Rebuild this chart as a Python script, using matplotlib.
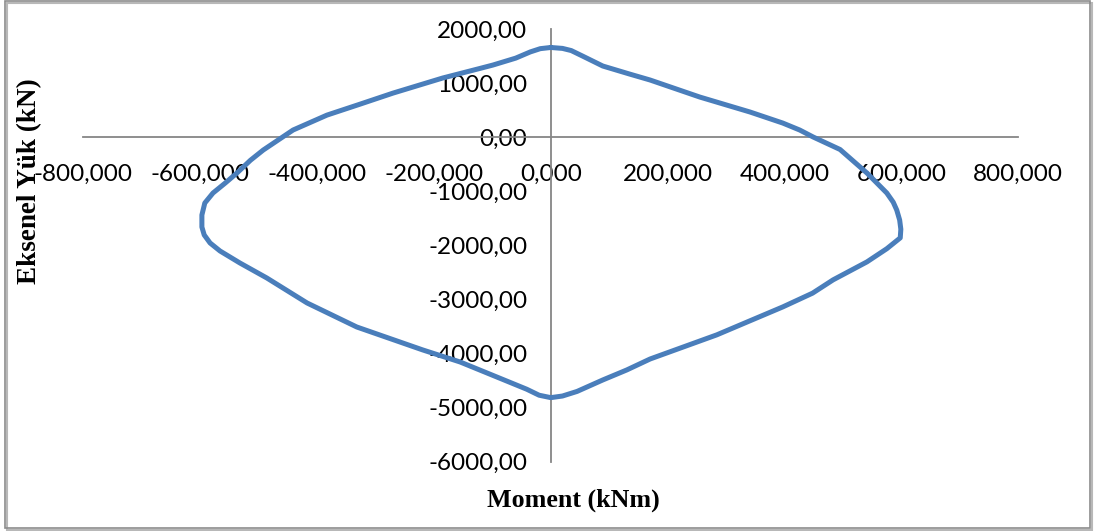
import matplotlib
matplotlib.use("Agg")
import matplotlib.pyplot as plt
from matplotlib.patches import Rectangle
from matplotlib.ticker import FixedLocator, FixedFormatter

# Interaction diagram: moment (kNm) vs axial load (kN), closed loop
moment = [0, 20, 35, 55, 89, 135, 170, 255, 341, 397, 426, 449, 495, 541, 575, 586, 592, 597,
          599, 598, 575, 541, 483, 448, 397, 341, 284, 170, 130, 89, 45, 20, 0,
          -20, -41, -93, -155, -219, -332, -417, -486, -532, -566, -583, -593, -597, -597,
          -592, -578, -557, -537, -514, -492, -441, -383, -326, -270, -185, -121, -99,
          -60, -35, -18, 0]
axial = [1662, 1645, 1605, 1500, 1319, 1170, 1060, 745, 468, 264, 135, 6, -225, -660, -1030, -1200, -1345, -1530,
         -1700, -1860, -2060, -2304, -2637, -2882, -3137, -3393, -3654, -4100, -4303, -4488, -4700, -4785, -4815,
         -4770, -4660, -4430, -4156, -3933, -3508, -3064, -2601, -2324, -2102, -1954, -1806, -1659, -1437,
         -1215, -1030, -845, -660, -425, -235, 135, 411, 615, 818, 1097, 1275, 1337,
         1465, 1580, 1640, 1662]

x_ticks = [-800, -600, -400, -200, 0, 200, 400, 600, 800]
x_ticklabels = ["-800,000", "-600,000", "-400,000", "-200,000", "0,000",
                "200,000", "400,000", "600,000", "800,000"]
y_ticks = [2000, 1000, 0, -1000, -2000, -3000, -4000, -5000, -6000]
y_ticklabels = ["2000,00", "1000,00", "0,00", "-1000,00", "-2000,00",
                "-3000,00", "-4000,00", "-5000,00", "-6000,00"]

fig = plt.figure(figsize=(10.94, 5.31), dpi=100)
ax = fig.add_axes([0.0761, 0.1305, 0.8547, 0.8145])

ax.plot(moment, axial, color="#4A7EBB", lw=3.6, solid_joinstyle="round",
        solid_capstyle="round", clip_on=False, zorder=3)

ax.set_xlim(-800, 800)
ax.set_ylim(-6000, 2000)

for s in ("top", "right"):
    ax.spines[s].set_visible(False)
ax.spines["left"].set_position(("data", 0))
ax.spines["bottom"].set_position(("data", 0))
for s in ("left", "bottom"):
    ax.spines[s].set_color("#868686")
    ax.spines[s].set_linewidth(1.3)

ax.xaxis.set_major_locator(FixedLocator(x_ticks))
ax.xaxis.set_major_formatter(FixedFormatter(x_ticklabels))
ax.yaxis.set_major_locator(FixedLocator(y_ticks))
ax.yaxis.set_major_formatter(FixedFormatter(y_ticklabels))

ax.tick_params(axis="x", length=0, pad=19)
ax.tick_params(axis="y", length=0, pad=17)
for lbl in ax.get_xticklabels() + ax.get_yticklabels():
    lbl.set_fontfamily("Lato")
    lbl.set_fontsize(17.5)
    lbl.set_color("black")

fig.text(573 / 1094, 1 - 500 / 531, "Moment (kNm)", ha="center", va="center",
         family="Liberation Serif", weight="bold", fontsize=18.7)
fig.text(30 / 1094, 1 - 181 / 531, "Eksenel Yük (kN)", ha="center", va="center",
         rotation=90, family="Liberation Serif", weight="bold", fontsize=19.5)

# chart frame with a light drop shadow
fig.patches.append(Rectangle((7 / 1094, 1 - 530 / 531), 1085 / 1094, 527 / 531,
                             transform=fig.transFigure, fill=False,
                             edgecolor="#b8b8b8", lw=1.5))
fig.patches.append(Rectangle((5 / 1094, 1 - 528 / 531), 1085 / 1094, 527 / 531,
                             transform=fig.transFigure, fill=False,
                             edgecolor="#8c8c8c", lw=1.2))

fig.savefig("out.png", dpi=100)
